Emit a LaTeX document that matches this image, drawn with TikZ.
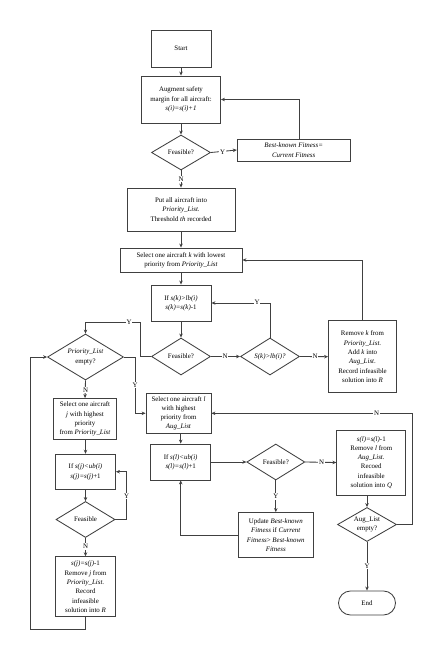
\documentclass[tikz,border=0pt]{standalone}
\usepackage{fontspec}
\setmainfont{Liberation Serif}
\usetikzlibrary{shapes.geometric,shapes.misc,arrows.meta,calc}
\begin{document}
\begin{tikzpicture}[x=1pt,y=-1pt,
  every node/.style={font=\fontsize{6.9}{9.3}\selectfont, text=black},
  box/.style={draw=black!75, line width=0.85pt, rectangle, align=center, inner sep=1pt},
  dia/.style={draw=black!75, line width=0.85pt, diamond, align=center, inner sep=0pt, aspect=1.6},
  term/.style={draw=black!75, line width=0.85pt, rounded rectangle, align=center, inner sep=1pt},
  ln/.style={draw=black!75, line width=0.85pt},
  arr/.style={ln, -{Stealth[length=4pt,width=3.5pt]}},
  lab/.style={fill=white, inner sep=1pt}]
\useasboundingbox (0,0) rectangle (443,660);
\fill[white] (0,0) rectangle (443,660);

\node[box, minimum width=60pt, minimum height=37pt] (start) at (181,48.5) {Start};
\node[box, minimum width=79pt, minimum height=47pt] (aug) at (181,99.5) {Augment safety\\margin for all aircraft:\\\textit{s(i)=s(i)+1}};
\node[dia, minimum width=59pt, minimum height=35pt] (feas1) at (181,152.5) {Feasible?};
\node[box, minimum width=113pt, minimum height=22pt] (best) at (293.7,150) {\textit{Best-known Fitness=}\\\textit{Current Fitness}};
\node[box, minimum width=108pt, minimum height=43pt] (put) at (181,209.5) {Put all aircraft into\\\textit{Priority\_List}.\\Threshold \textit{th} recorded};
\node[box, minimum width=122pt, minimum height=24pt] (selk) at (181,260) {Select one aircraft \textit{k} with lowest\\priority from \textit{Priority\_List}};
\node[box, minimum width=60pt, minimum height=36pt] (ifk) at (181,303) {If \textit{s(k)>lb(i)}\\\textit{s(k)=s(k)}-1};
\node[dia, minimum width=59pt, minimum height=37pt] (feas2) at (181,356.5) {Feasible?};
\node[dia, minimum width=59pt, minimum height=37pt] (sk) at (270,356.5) {\textit{S(k)>lb(i)?}};
\node[box, minimum width=68pt, minimum height=72pt] (remk) at (362.5,356.7) {Remove \textit{k} from\\\textit{Priority\_List}.\\Add \textit{k} into\\\textit{Aug\_List}.\\Record infeasible\\solution into \textit{R}};
\node[dia, minimum width=76pt, minimum height=46pt] (prio) at (85.5,357) {\textit{Priority\_List}\\empty?};
\node[box, minimum width=63pt, minimum height=41pt] (selj) at (85,419) {Select one aircraft\\\textit{j} with highest\\priority\\from \textit{Priority\_List}};
\node[box, minimum width=60pt, minimum height=35pt] (ifj) at (85.5,471.7) {If \textit{s(j)<ub(i)}\\\textit{s(j)=s(j)}+1};
\node[dia, minimum width=59pt, minimum height=36pt] (feasj) at (85.5,519.5) {Feasible};
\node[box, minimum width=60pt, minimum height=60pt] (sj) at (85.5,586.7) {\textit{s(j)=s(j)}-1\\Remove \textit{j} from\\\textit{Priority\_List}.\\Record\\infeasible\\solution into \textit{R}};
\node[box, minimum width=65pt, minimum height=40pt] (sell) at (178.5,413.3) {Select one aircraft \textit{l}\\with highest\\priority from\\\textit{Aug\_List}};
\node[box, minimum width=60pt, minimum height=36pt] (ifl) at (180.7,462) {If \textit{s(l)<ub(i)}\\\textit{s(l)=s(l)}+1};
\node[dia, minimum width=58pt, minimum height=36pt] (feas3) at (275.8,462) {Feasible?};
\node[box, minimum width=69pt, minimum height=65pt] (sl) at (371.3,462.5) {\textit{s(l)=s(l)}-1\\Remove \textit{l} from\\\textit{Aug\_List}.\\Recoed\\infeasible\\solution into \textit{Q}};
\node[dia, minimum width=59pt, minimum height=34pt] (augl) at (367,524.5) {Aug\_List\\empty?};
\node[box, minimum width=75pt, minimum height=45pt] (update) at (275.8,535) {Update \textit{Best-known}\\\textit{Fitness} if \textit{Current}\\\textit{Fitness}> \textit{Best-known}\\\textit{Fitness}};
\node[term, minimum width=59pt, minimum height=24pt] (end) at (367,603) {End};

\coordinate (c1) at (299,100);
\coordinate (c2) at (140,322.7);
\coordinate (c3) at (135,357);
\coordinate (c4) at (126.7,519.5);
\coordinate (c5) at (30.7,629);
\coordinate (c6) at (412.7,524.5);

\draw[arr] (start) -- (aug);
\draw[arr] (aug) -- (feas1);
\draw[arr] (feas1.east) -- (best.west);
\draw[arr] ([xshift=5.3pt]best.north) |- (aug.east);
\draw[arr] (feas1.south) -- (put.north);
\draw[arr] (put) -- (selk);
\draw[arr] (selk) -- (ifk);
\draw[arr] (ifk) -- (feas2);
\draw[arr] (feas2.east) -- (sk.west);
\draw[arr] (sk.north) |- (ifk.east);
\draw[arr] (sk.east) -- (remk.west);
\draw[arr] (remk.north) |- (selk.east);
\draw[arr] (feas2.west) -- (feas2.west -| c2) -- (c2) -- (c2 -| prio.north) -- (prio.north);
\draw[arr] (prio.east) -- (c3) |- (sell.west);
\draw[arr] (prio.south) -- (selj.north);
\draw[arr] (selj.south -| ifj.north) -- (ifj.north);
\draw[arr] (ifj) -- (feasj);
\draw[arr] (feasj.east) -- (c4) |- (ifj.east);
\draw[arr] (feasj.south) -- (sj.north);
\draw[arr] (sj.south) -- (sj.south |- c5) -- (c5) |- (prio.west);
\draw[arr] (sell.south -| ifl.north) -- (ifl.north);
\draw[arr] (ifl.east) -- (feas3.west);
\draw[arr] (feas3.east) -- (sl.west);
\draw[arr] (feas3.south) -- (update.north);
\draw[arr] (update.west) -| (ifl.south);
\draw[arr] (sl.south -| augl.north) -- (augl.north);
\draw[arr] (augl.east) -- (c6) |- (sell.east);
\draw[arr] (augl.south) -- (end.north);

\node[lab] (y1) at (222.5,152.5) {Y};
\node[lab] (n1) at (181,179) {N};
\node[lab] (n2) at (225,356.5) {N};
\node[lab] (y2) at (257,302.7) {Y};
\node[lab] (n3) at (315,356.5) {N};
\node[lab] (y3) at (129,322.7) {Y};
\node[lab] (y4) at (135,385) {Y};
\node[lab] (n4) at (85.5,390) {N};
\node[lab] (y5) at (126.7,496) {Y};
\node[lab] (n5) at (85.5,546.5) {N};
\node[lab] (n6) at (321.7,462) {N};
\node[lab] (y6) at (275.8,496.7) {Y};
\node[lab] (n7) at (376.7,413.3) {N};
\node[lab] (y7) at (367,566) {Y};
\end{tikzpicture}
\end{document}
